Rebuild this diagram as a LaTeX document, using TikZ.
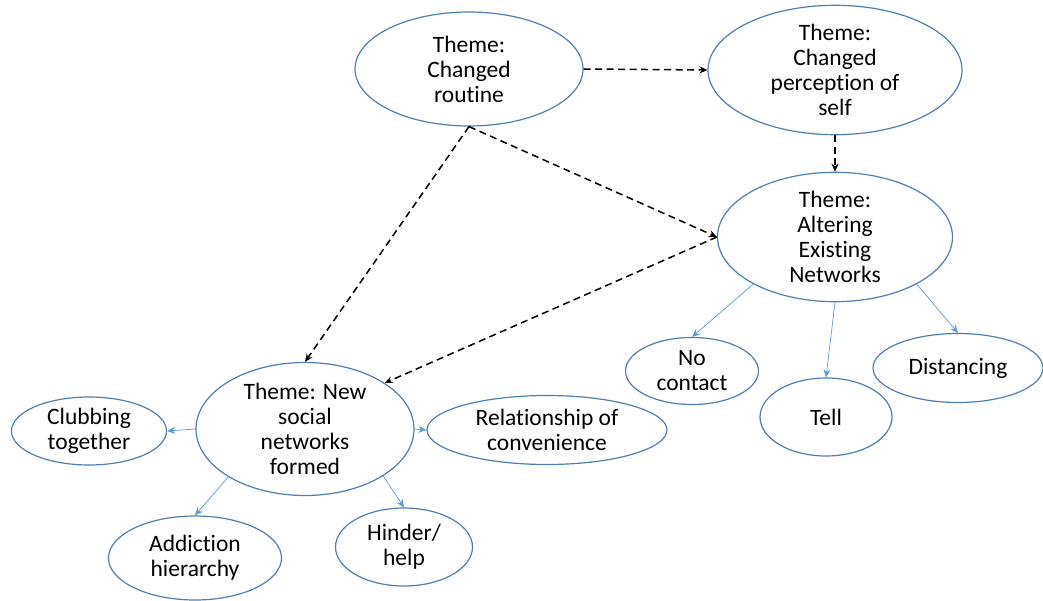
\documentclass[tikz,border=0pt]{standalone}
\usepackage{fontspec}
\setmainfont{Carlito}[Ligatures=NoCommon]
\usepackage{tikz}
\usetikzlibrary{shapes.geometric,arrows.meta}
\definecolor{ovalblue}{HTML}{4F7FB0}
\definecolor{linkblue}{HTML}{5B9BD5}

\begin{document}
\begin{tikzpicture}[x=1pt,y=-1pt,
    theme/.style={ellipse, draw=ovalblue, line width=1.2pt, fill=white, inner sep=0pt,
                 align=center, font=\fontsize{23.5}{25}\selectfont},
    flow/.style={-{Stealth[length=8pt,width=7pt]}, black, line width=1.5pt, dash pattern=on 7pt off 4.5pt},
    sub/.style={-{Stealth[length=8pt,width=7pt]}, linkblue, line width=0.7pt}
]
    \useasboundingbox (0,0) rectangle (1043,601);

    \node[theme, minimum width=228pt, minimum height=114pt] (rout) at (469,69) {Theme:\\Changed\\routine};
    \node[theme, minimum width=254pt, minimum height=113pt] (perc) at (835,70) {Theme:\\Changed\\perception of\\self};
    \node[theme, minimum width=235pt, minimum height=123pt] (alt) at (835,237) {Theme:\\Altering\\Existing\\Networks};
    \node[theme, minimum width=218pt, minimum height=133pt] (new) at (305,429) {Theme: New\\social\\networks\\formed};

    \node[theme, minimum width=155pt, minimum height=68pt] (club) at (89,431) {Clubbing\\together};
    \node[theme, minimum width=240pt, minimum height=69pt] (rel) at (547,430) {Relationship of\\convenience};
    \node[theme, minimum width=173pt, minimum height=84pt] (add) at (195,558) {Addiction\\hierarchy};
    \node[theme, minimum width=137pt, minimum height=78pt] (hind) at (404,547) {Hinder/\\help};

    \node[theme, minimum width=133pt, minimum height=67pt] (noc) at (692,371) {No\\contact};
    \node[theme, minimum width=132pt, minimum height=78pt] (tell) at (826,417) {Tell};
    \node[theme, minimum width=170pt, minimum height=69pt] (dist) at (958,368) {Distancing};

    \draw[flow] (rout.east) -- (perc.west);
    \draw[flow] (perc.south) -- (alt.north);
    \draw[flow] (rout.south) -- (alt.west);
    \draw[flow] (rout.south) -- (new.north);
    \draw[flow] (alt.west) -- (new.30);

    \draw[sub] (alt.210) -- (noc.north);
    \draw[sub] (alt.south) -- (tell.north);
    \draw[sub] (alt.330) -- (dist.north);

    \draw[sub] (new.west) -- (club.east);
    \draw[sub] (new.east) -- (rel.west);
    \draw[sub] (new.212) -- (add.north);
    \draw[sub] (new.329) -- (hind.north);
\end{tikzpicture}
\end{document}
